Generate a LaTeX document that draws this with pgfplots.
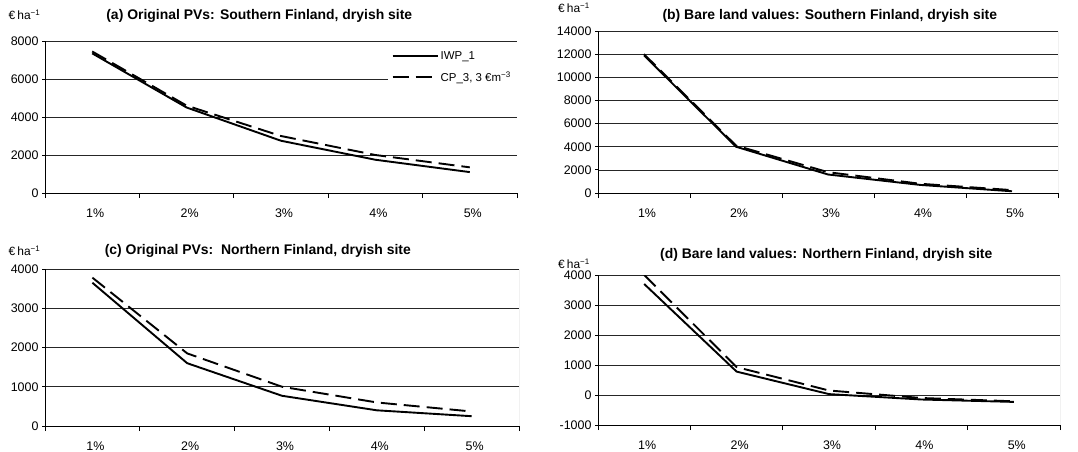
\documentclass[border=0pt]{standalone}
\usepackage{pgfplots}
\pgfplotsset{compat=1.18}
\usepackage{fontspec}
\setmainfont{Liberation Sans}
\begin{document}
\begin{tikzpicture}
\path[use as bounding box] (0bp,0bp) rectangle (1078bp,-452bp);
\pgfplotsset{
 panel/.style={
  scale only axis, xmin=0.5, xmax=5.5,
  xtick={1,2,3,4,5}, xticklabels={1\%,2\%,3\%,4\%,5\%},
  minor xtick={0.5,1.5,2.5,3.5,4.5,5.5},
  major x tick style={draw=none},
  minor x tick style={black, line width=0.8bp},
  y tick style={black, line width=0.8bp},
  tick align=outside, minor tick length=5bp, major tick length=3bp,
  axis x line*=bottom, axis y line*=left,
  axis line style={-, black, line width=0.8bp},
  ymajorgrids, major grid style={black!85, line width=0.7bp},
  tick label style={font=\fontsize{12.5}{14}\selectfont},
  xticklabel style={yshift=-9bp, xshift=3bp},
  scaled y ticks=false,
  /pgf/number format/assume math mode=true,
  /pgf/number format/1000 sep={},
  every axis title/.style={font=\fontsize{14}{16}\selectfont\bfseries, anchor=base},
 },
 soll/.style={black, solid, no marks, line width=1.9bp},
 dashl/.style={black, no marks, line width=1.9bp, dash pattern=on 16bp off 7bp},
}
% (a)
\begin{axis}[panel, at={(45bp,-193bp)}, anchor=south west, width=472bp, height=152bp,
  ymin=0, ymax=8000, ytick={0,2000,4000,6000,8000},
  title={(a) Original PVs: Southern Finland, dryish site},
  title style={at={(0.454,1)}, yshift=21.5bp},
  legend style={at={(1,0.96)}, anchor=north east, draw=none, fill=white,
    font=\fontsize{11.5}{13}\selectfont, row sep=7bp, inner xsep=4bp},
  legend cell align=left,
  legend image code/.code={\draw[#1] (0bp,0bp) -- (45bp,0bp);},
]
\addplot[soll] coordinates {(1,7350) (2,4500) (3,2750) (4,1750) (5,1100)};
\addlegendentry{IWP\_1}
\addplot[dashl] coordinates {(1,7450) (2,4600) (3,3000) (4,2000) (5,1350)};
\addlegendentry{CP\_3, 3 €m\textsuperscript{−3}}
\draw[black!45, line width=0.8bp] (rel axis cs:1,0) -- (rel axis cs:1,1);
\end{axis}
% (b)
\begin{axis}[panel, at={(598bp,-193bp)}, anchor=south west, width=460bp, height=162bp,
  ymin=0, ymax=14000, ytick={0,2000,4000,6000,8000,10000,12000,14000},
  title={(b) Bare land values: Southern Finland, dryish site},
  title style={at={(0.504,1)}, yshift=11.5bp},
]
\addplot[soll] coordinates {(1,11900) (2,4000) (3,1600) (4,700) (5,150)};
\addplot[dashl] coordinates {(1,12000) (2,4100) (3,1800) (4,800) (5,250)};
\draw[black!45, line width=0.8bp] (rel axis cs:1,0) -- (rel axis cs:1,1);
\end{axis}
% (c)
\begin{axis}[panel, at={(45bp,-426bp)}, anchor=south west, width=474bp, height=157bp,
  ymin=0, ymax=4000, ytick={0,1000,2000,3000,4000},
  title={(c) Original PVs:\ \ Northern Finland, dryish site},
  title style={at={(0.449,1)}, yshift=14.7bp},
]
\addplot[soll] coordinates {(1,3650) (2,1600) (3,770) (4,400) (5,250)};
\addplot[dashl] coordinates {(1,3780) (2,1850) (3,1000) (4,600) (5,370)};
\draw[black!45, line width=0.8bp] (rel axis cs:1,0) -- (rel axis cs:1,1);
\end{axis}
% (d)
\begin{axis}[panel, at={(598bp,-425bp)}, anchor=south west, width=462bp, height=150bp,
  ymin=-1000, ymax=4000, ytick={-1000,0,1000,2000,3000,4000},
  title={(d) Bare land values: Northern Finland, dryish site},
  title style={at={(0.494,1)}, yshift=16.7bp},
]
\addplot[soll] coordinates {(1,3700) (2,780) (3,30) (4,-150) (5,-230)};
\addplot[dashl] coordinates {(1,4000) (2,930) (3,150) (4,-100) (5,-210)};
\draw[black!45, line width=0.8bp] (rel axis cs:1,0) -- (rel axis cs:1,1);
\end{axis}
\node[font=\fontsize{12}{14}\selectfont] at (24.5bp,-15bp) {€\,ha\textsuperscript{−1}};
\node[font=\fontsize{12}{14}\selectfont] at (574bp,-8bp) {€\,ha\textsuperscript{−1}};
\node[font=\fontsize{12}{14}\selectfont] at (24.5bp,-251bp) {€\,ha\textsuperscript{−1}};
\node[font=\fontsize{12}{14}\selectfont] at (574bp,-264bp) {€\,ha\textsuperscript{−1}};
\end{tikzpicture}
\end{document}
